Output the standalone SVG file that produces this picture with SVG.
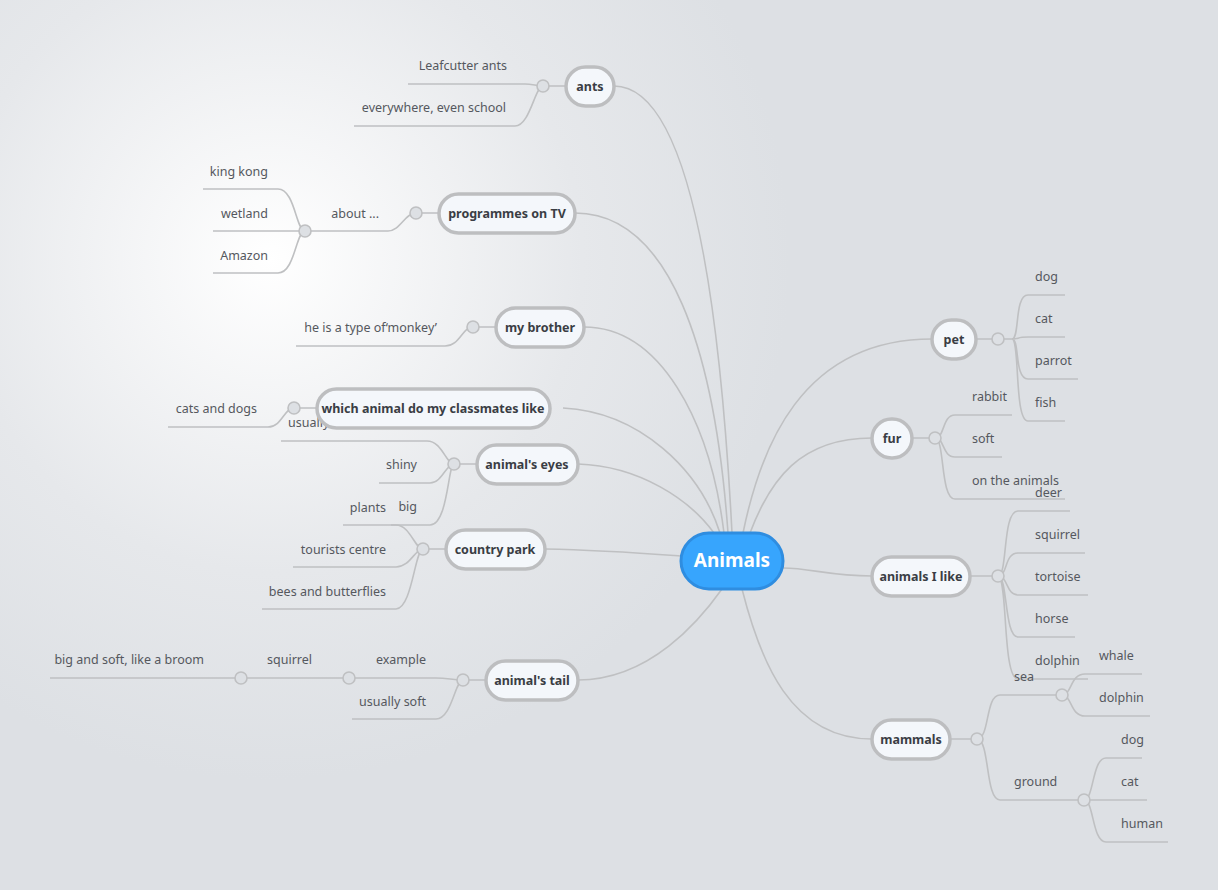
<svg xmlns="http://www.w3.org/2000/svg" width="1218" height="890" viewBox="0 0 1218 890">
<defs>
<radialGradient id="bg" cx="270" cy="260" r="520" gradientUnits="userSpaceOnUse">
<stop offset="0" stop-color="#ffffff"/><stop offset="0.6" stop-color="#e6e8eb"/><stop offset="1" stop-color="#dde0e4"/>
</radialGradient>
<style>
.c{fill:none;stroke:#bfc0c2;stroke-width:1.6}
.k{fill:#dde0e4;stroke:#bfc0c2;stroke-width:1.6}
.n{fill:#f4f7fb;stroke:#bdbec0;stroke-width:3.5}
.nt{font-family:"Noto Sans","Open Sans",sans-serif;font-size:12.5px;font-weight:bold;fill:#3a3d44;text-anchor:middle}
.l{font-family:"Noto Sans","Open Sans",sans-serif;font-size:12.5px;fill:#55585e}
.r{text-anchor:end}
</style>
</defs>
<rect width="1218" height="890" fill="#dde0e4"/>
<rect width="1218" height="890" fill="url(#bg)"/>
<g id="connectors">
<path class="c" d="M614,86 C690,86 720,300 732,533"/>
<path class="c" d="M575,213 C670,213 715,350 728,533"/>
<path class="c" d="M584,327 C660,327 710,420 724,533"/>
<path class="c" d="M563,408 C640,412 700,470 720,533"/>
<path class="c" d="M578,464 C640,466 690,500 714,533"/>
<path class="c" d="M545,549 C600,550 640,553 681,556"/>
<path class="c" d="M578,680 C650,680 700,620 722,589"/>
<path class="c" d="M932,339 C800,339 760,450 743,533"/>
<path class="c" d="M872,438 C800,438 770,480 750,533"/>
<path class="c" d="M872,576 C830,576 810,568 783,568"/>
<path class="c" d="M872,739 C790,739 760,660 742,589"/>
<!-- ants -->
<path class="c" d="M614,86 H543 M408,84 H525 C532,84 537,86 543,86 M354,126 H515 C530,126 535,86 543,86"/>
<!-- programmes -->
<path class="c" d="M439,213 H416 M322,231 H388 C400,231 405,213 416,213 M305,231 H322 M203,189 H278 C295,189 296,231 305,231 M213,231 H305 M213,273 H278 C295,273 296,231 305,231"/>
<!-- brother -->
<path class="c" d="M496,327 H473 M296,346 H445 C460,346 462,327 473,327"/>
<!-- which -->
<path class="c" d="M317,408 H294 M168,427 H268 C282,427 284,408 294,408"/>
<!-- eyes -->
<path class="c" d="M477,464 H454 M281,441 H427 C442,441 446,464 454,464 M379,483 H430 C442,483 446,464 454,464 M391,525 H430 C448,525 448,464 454,464"/>
<!-- country park -->
<path class="c" d="M446,549 H423 M343,525 H396 C410,525 415,549 423,549 M293,567 H396 C410,567 415,549 423,549 M262,609 H396 C412,609 415,549 423,549"/>
<!-- tail -->
<path class="c" d="M486,680 H463 M349,678 H436 C448,678 452,680 463,680 M352,719 H436 C452,719 455,680 463,680 M241,678 H349 M50,678 H241"/>
<!-- pet -->
<path class="c" d="M976,339 H998 M998,339 H1012 C1020,339 1014,295 1028,295 H1065 M1012,339 C1020,339 1016,337 1028,337 H1065 M1012,339 C1020,339 1014,379 1028,379 H1078 M1012,339 C1020,339 1014,421 1028,421 H1065"/>
<!-- fur -->
<path class="c" d="M912,438 H935 M935,438 C945,438 942,415 955,415 H1012 M935,438 C945,438 942,457 955,457 H1002 M935,438 C945,438 940,499 955,499 H1065"/>
<!-- animals I like -->
<path class="c" d="M970,576 H998 M998,576 C1008,576 1002,511 1018,511 H1070 M998,576 C1008,576 1004,553 1018,553 H1085 M998,576 C1008,576 1006,595 1018,595 H1088 M998,576 C1008,576 1004,637 1018,637 H1075 M998,576 C1008,576 1002,679 1018,679 H1088"/>
<!-- mammals -->
<path class="c" d="M950,739 H977 M977,739 C990,739 985,695 1000,695 H1062 M977,739 C990,739 985,800 1000,800 H1084 M1062,695 C1072,695 1070,674 1085,674 H1142 M1062,695 C1072,695 1070,716 1085,716 H1150 M1084,800 C1094,800 1092,758 1106,758 H1142 M1084,800 C1094,800 1094,800 1106,800 H1147 M1084,800 C1094,800 1092,842 1106,842 H1168"/>
<g>
<circle class="k" cx="543" cy="86" r="6"/><circle class="k" cx="416" cy="213" r="6"/><circle class="k" cx="305" cy="231" r="6"/>
<circle class="k" cx="473" cy="327" r="6"/><circle class="k" cx="294" cy="408" r="6"/><circle class="k" cx="454" cy="464" r="6"/>
<circle class="k" cx="423" cy="549" r="6"/><circle class="k" cx="463" cy="680" r="6"/><circle class="k" cx="349" cy="678" r="6"/>
<circle class="k" cx="241" cy="678" r="6"/><circle class="k" cx="998" cy="339" r="6"/><circle class="k" cx="935" cy="438" r="6"/>
<circle class="k" cx="998" cy="576" r="6"/><circle class="k" cx="977" cy="739" r="6"/><circle class="k" cx="1062" cy="695" r="6"/>
<circle class="k" cx="1084" cy="800" r="6"/>
</g>
</g>
<g id="leaves">
<text class="l r" x="507" y="70">Leafcutter ants</text>
<text class="l r" x="506" y="112">everywhere, even school</text>
<text class="l r" x="379" y="218">about ...</text>
<text class="l r" x="268" y="176">king kong</text>
<text class="l r" x="268" y="218">wetland</text>
<text class="l r" x="268" y="260">Amazon</text>
<text class="l r" x="437" y="332">he is a type of‘monkey’</text>
<text class="l r" x="257" y="413">cats and dogs</text>
<text class="l" x="288" y="427">usually</text>
<text class="l r" x="417" y="469">shiny</text>
<text class="l r" x="417" y="511">big</text>
<text class="l r" x="386" y="512">plants</text>
<text class="l r" x="386" y="554">tourists centre</text>
<text class="l r" x="386" y="596">bees and butterflies</text>
<text class="l r" x="426" y="664">example</text>
<text class="l r" x="426" y="706">usually soft</text>
<text class="l r" x="312" y="664">squirrel</text>
<text class="l r" x="204" y="664">big and soft, like a broom</text>
<text class="l" x="1035" y="281">dog</text>
<text class="l" x="1035" y="323">cat</text>
<text class="l" x="1035" y="365">parrot</text>
<text class="l" x="1035" y="407">fish</text>
<text class="l" x="972" y="401">rabbit</text>
<text class="l" x="972" y="443">soft</text>
<text class="l" x="972" y="485">on the animals</text>
<text class="l" x="1035" y="497">deer</text>
<text class="l" x="1035" y="539">squirrel</text>
<text class="l" x="1035" y="581">tortoise</text>
<text class="l" x="1035" y="623">horse</text>
<text class="l" x="1035" y="665">dolphin</text>
<text class="l" x="1014" y="681">sea</text>
<text class="l" x="1014" y="786">ground</text>
<text class="l" x="1099" y="660">whale</text>
<text class="l" x="1099" y="702">dolphin</text>
<text class="l" x="1121" y="744">dog</text>
<text class="l" x="1121" y="786">cat</text>
<text class="l" x="1121" y="828">human</text>
</g>
<g id="n-ants"><rect class="n" x="566" y="67" width="48" height="39" rx="19.5"/><text class="nt" x="590" y="91">ants</text></g>
<g id="n-tv"><rect class="n" x="439" y="194" width="136" height="39" rx="19.5"/><text class="nt" x="507" y="218">programmes on TV</text></g>
<g id="n-brother"><rect class="n" x="496" y="308" width="88" height="39" rx="19.5"/><text class="nt" x="540" y="332">my brother</text></g>
<g id="n-which"><rect class="n" x="317" y="389" width="233" height="39" rx="19.5"/><text class="nt" x="433" y="413">which animal do my classmates like</text></g>
<g id="n-eyes"><rect class="n" x="477" y="445" width="101" height="39" rx="19.5"/><text class="nt" x="527" y="469">animal's eyes</text></g>
<g id="n-park"><rect class="n" x="446" y="530" width="99" height="39" rx="19.5"/><text class="nt" x="495" y="554">country park</text></g>
<g id="n-tail"><rect class="n" x="486" y="661" width="92" height="39" rx="19.5"/><text class="nt" x="532" y="685">animal's tail</text></g>
<g id="n-pet"><rect class="n" x="932" y="320" width="44" height="39" rx="19.5"/><text class="nt" x="954" y="344">pet</text></g>
<g id="n-fur"><rect class="n" x="872" y="419" width="40" height="39" rx="19.5"/><text class="nt" x="892" y="443">fur</text></g>
<g id="n-like"><rect class="n" x="872" y="557" width="98" height="39" rx="19.5"/><text class="nt" x="921" y="581">animals I like</text></g>
<g id="n-mammals"><rect class="n" x="872" y="720" width="78" height="39" rx="19.5"/><text class="nt" x="911" y="744">mammals</text></g>
<g id="n-animals"><rect x="681" y="533" width="102" height="56" rx="28" fill="#37a5fd" stroke="#2f8de0" stroke-width="3"/><text x="732" y="567" font-family="Noto Sans,Open Sans,sans-serif" font-size="19" font-weight="bold" fill="#ffffff" text-anchor="middle">Animals</text></g>
</svg>
